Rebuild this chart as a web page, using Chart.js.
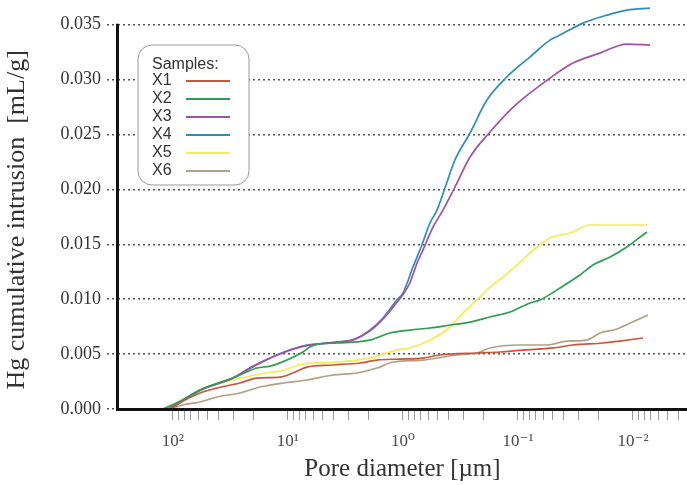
<!DOCTYPE html>
<html><head><meta charset="utf-8">
<script src="https://cdn.jsdelivr.net/npm/chart.js@4.4.1/dist/chart.umd.min.js"></script>
<style>html,body{margin:0;padding:0;background:#fff;}#wrap{width:687px;height:485px;}</style>
</head><body><div id="wrap"><canvas id="c" width="687" height="485"></canvas></div>
<script>
// ---- data (pore diameter [µm], cumulative intrusion [mL/g]) ----
const seriesNames = ['X1','X2','X3','X4','X5','X6'];
const seriesColors = ['#c4583f','#2f9c50','#a3509e','#2f8db5','#f7ea55','#b59e86'];
const X1 = [[110.5,0],[58.2,0.00146],[41.4,0.00191],[26.1,0.00237],[18.6,0.00282],[11.7,0.0029],[9.05,0.00328],[6.84,0.00382],[4.06,0.00401],[2.37,0.00419],[1.68,0.00446],[1.06,0.00455],[0.670,0.00464],[0.477,0.00492],[0.227,0.0051],[0.143,0.00519],[0.0905,0.00537],[0.0496,0.00556],[0.0332,0.00583],[0.0182,0.00601],[0.013,0.00619],[0.00818,0.00647]];
const X2 = [[122,0],[81.9,0.00082],[50.6,0.0020],[30.1,0.00282],[18.6,0.00373],[14.3,0.0039],[11.7,0.0042],[7.41,0.00519],[6.44,0.00565],[5.5,0.0059],[3.75,0.00601],[1.94,0.00628],[1.30,0.00692],[0.869,0.00719],[0.582,0.00738],[0.390,0.00765],[0.261,0.00792],[0.175,0.00838],[0.117,0.00883],[0.0787,0.00965],[0.0644,0.00993],[0.0431,0.01102],[0.0289,0.0122],[0.0223,0.01311],[0.0158,0.01384],[0.0113,0.01475],[0.00869,0.01566],[0.00755,0.01612]];
const X3 = [[105,0],[58.2,0.0017],[30.1,0.0028],[20.2,0.0039],[12.5,0.0049],[7.41,0.0057],[3.75,0.0061],[2.72,0.0063],[1.94,0.0071],[1.49,0.0082],[1.13,0.0097],[1.0,0.0104],[0.869,0.0115],[0.76,0.0132],[0.670,0.01448],[0.548,0.01657],[0.449,0.01812],[0.353,0.02022],[0.261,0.02295],[0.175,0.02523],[0.110,0.0275],[0.0527,0.03014],[0.0332,0.03151],[0.0194,0.03242],[0.0113,0.03324],[0.00711,0.03315]];
const X4 = [[110.5,0],[58.2,0.00173],[30.1,0.00282],[20.2,0.00382],[12.5,0.00492],[7.41,0.00574],[3.75,0.0061],[2.72,0.00628],[1.94,0.00719],[1.49,0.00829],[1.13,0.00993],[1.0,0.01056],[0.818,0.01293],[0.684,0.01494],[0.582,0.01694],[0.506,0.01812],[0.431,0.02013],[0.353,0.02268],[0.261,0.02514],[0.186,0.02814],[0.125,0.03024],[0.0787,0.03206],[0.0527,0.0336],[0.0431,0.03406],[0.0272,0.03515],[0.0168,0.03588],[0.0113,0.03634],[0.00711,0.03652]];
const X5 = [[106,0],[58.2,0.00173],[30.1,0.00264],[15.2,0.0033],[11.7,0.00345],[7.41,0.0041],[3.75,0.00428],[1.94,0.00464],[1.13,0.00537],[0.869,0.00556],[0.582,0.00628],[0.390,0.00747],[0.301,0.00874],[0.227,0.00993],[0.175,0.01111],[0.135,0.01202],[0.102,0.01311],[0.0787,0.01421],[0.0644,0.01494],[0.0527,0.01557],[0.0353,0.01603],[0.0237,0.01676],[0.013,0.01676],[0.00755,0.01676]];
const X6 = [[106,0],[81.9,0.00036],[58.2,0.00064],[41.4,0.00109],[26.1,0.00146],[17.5,0.002],[11.0,0.00237],[6.84,0.00264],[4.06,0.0031],[2.51,0.00328],[1.68,0.00373],[1.22,0.00428],[0.670,0.00446],[0.339,0.00492],[0.227,0.0051],[0.175,0.00556],[0.0961,0.00583],[0.056,0.00583],[0.0375,0.00619],[0.0251,0.00628],[0.0194,0.00692],[0.0138,0.00729],[0.00923,0.00811],[0.00741,0.00856]];
const seriesData = [X1,X2,X3,X4,X5,X6];

const xMajorTicks = [100, 10, 1, 0.1, 0.01];
const xMajorLabels = ['10²','10¹','10⁰','10⁻¹','10⁻²'];
const xMinorMultipliers = [2,3,4,5,6,7,8,9];
const yTicks = [0, 0.005, 0.010, 0.015, 0.020, 0.025, 0.030, 0.035];
const xMin = 0.00339, xMax = 300, yMax = 0.0368, yAxisTop = 0.035;
const legendTitle = 'Samples:';
const xTitle = 'Pore diameter [µm]';
const yTitle = 'Hg cumulative intrusion  [mL/g]';

// ---- build ----
const xAllTicks = [];
xMajorTicks.forEach(d => { xAllTicks.push(d); xMinorMultipliers.forEach(m => xAllTicks.push(d*m/10)); });
xMinorMultipliers.forEach(m => xAllTicks.push(0.001*m));
const uniq = [...new Set(xAllTicks.map(v=>+v.toPrecision(6)))].filter(v=>v>=0.0039&&v<=100).sort((a,b)=>a-b);

const serif = "'Liberation Serif','DejaVu Serif',serif";
const datasets = seriesNames.map((n,i)=>({
  label:n, data: seriesData[i].map(p=>({x:p[0], y:p[1]})),
  borderColor: seriesColors[i], backgroundColor: seriesColors[i],
  borderWidth: 1.7, pointRadius: 0, fill:false, cubicInterpolationMode:'monotone'
}));

const axesPlugin = {
  id:'axesLines',
  afterDraw(chart){
    const {ctx, chartArea:a, scales:{x,y}} = chart;
    ctx.save();
    ctx.strokeStyle = '#111'; ctx.lineWidth = 3; ctx.lineCap='butt';
    const y0 = y.getPixelForValue(0), yT = y.getPixelForValue(yAxisTop);
    ctx.beginPath(); ctx.moveTo(a.left-0.5, yT-1); ctx.lineTo(a.left-0.5, y0+1.5); ctx.stroke();
    ctx.beginPath(); ctx.moveTo(a.left-2, y0+0.5); ctx.lineTo(a.right, y0+0.5); ctx.stroke();
    // y-axis title
    ctx.translate(17, (yT + y0)/2 + 3);
    ctx.rotate(-Math.PI/2);
    ctx.font = "26px " + serif; ctx.fillStyle = '#333'; ctx.textAlign='center'; ctx.textBaseline='middle';
    ctx.fillText(yTitle, 0, 0);
    ctx.restore();
  }
};
const legendPlugin = {
  id:'boxLegend',
  afterDraw(chart){
    const {ctx, chartArea:a} = chart;
    const bx = a.left+20, by = 45, bw = 111, bh = 140, r = 14;
    ctx.save();
    ctx.fillStyle='#fff'; ctx.strokeStyle='#999'; ctx.lineWidth=1;
    ctx.beginPath();
    ctx.moveTo(bx+r,by); ctx.lineTo(bx+bw-r,by); ctx.arcTo(bx+bw,by,bx+bw,by+r,r);
    ctx.lineTo(bx+bw,by+bh-r); ctx.arcTo(bx+bw,by+bh,bx+bw-r,by+bh,r);
    ctx.lineTo(bx+r,by+bh); ctx.arcTo(bx,by+bh,bx,by+bh-r,r);
    ctx.lineTo(bx,by+r); ctx.arcTo(bx,by,bx+r,by,r); ctx.closePath();
    ctx.fill(); ctx.stroke();
    ctx.font = "16px 'Liberation Sans', Arial, sans-serif";
    ctx.fillStyle='#333'; ctx.textBaseline='middle'; ctx.textAlign='left';
    ctx.fillText(legendTitle, bx+14, by+20);
    chart.data.datasets.forEach((ds,i)=>{
      const yy = by+36+i*18;
      ctx.fillStyle='#333';
      ctx.fillText(ds.label, bx+14, yy);
      ctx.strokeStyle = ds.borderColor; ctx.lineWidth=2;
      ctx.beginPath(); ctx.moveTo(bx+48, yy); ctx.lineTo(bx+92, yy); ctx.stroke();
    });
    ctx.restore();
  }
};

new Chart(document.getElementById('c'), {
  type:'line',
  data:{datasets},
  plugins:[axesPlugin, legendPlugin],
  options:{
    responsive:false, animation:false, devicePixelRatio:1,
    layout:{padding:{top:5,right:0,left:0,bottom:0}},
    plugins:{legend:{display:false}, tooltip:{enabled:false}},
    scales:{
      x:{
        type:'logarithmic', reverse:true, min:xMin, max:xMax,
        afterBuildTicks: s => { s.ticks = uniq.map(v=>({value:v})); },
        afterFit: s => { s.height = 76; s.paddingLeft = 0; s.paddingRight = 0; },
        ticks:{autoSkip:false, maxRotation:0, minRotation:0, padding:11, color:'#4a4a4a',
          font:{family:serif, size:17},
          callback:(v)=>{ const k = xMajorTicks.findIndex(t=>Math.abs(Math.log10(t)-Math.log10(v))<1e-6); return k>=0 ? xMajorLabels[k] : ''; }},
        grid:{drawOnChartArea:false, drawTicks:true, tickLength:11, color:'#9a9a9a', lineWidth:1},
        border:{display:false},
        title:{display:true, text:xTitle, color:'#333', font:{family:serif, size:25}, padding:{top:0,bottom:1}}
      },
      y:{
        min:0, max:yMax,
        afterBuildTicks: s => { s.ticks = yTicks.map(v=>({value:v})); },
        afterFit: s => { s.width = 118; s.paddingTop = 0; s.paddingBottom = 0; },
        ticks:{padding:6, color:'#333', font:{family:serif, size:18}, callback:(v)=>Number(v).toFixed(3)},
        grid:{color:'#555', lineWidth:1.5, tickBorderDash:[2,3], tickLength:11, tickColor:'#555', tickWidth:1.5},
        border:{display:false, dash:[2,3]},
        title:{display:false}
      }
    }
  }
});
</script></body></html>
